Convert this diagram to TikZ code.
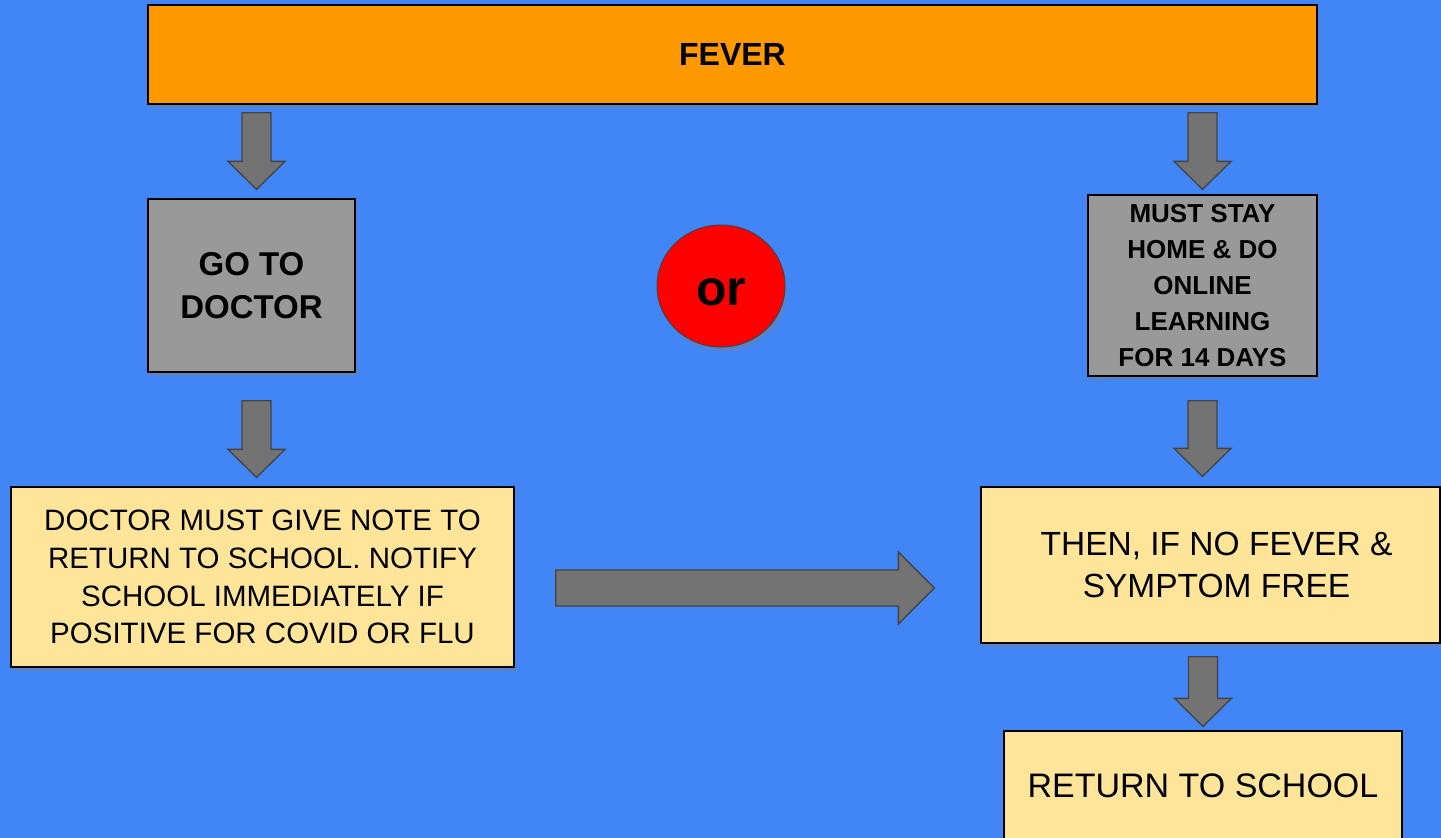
\documentclass[tikz,border=0pt]{standalone}
\usepackage{fontspec}
\setmainfont{Liberation Sans}
\usepackage{tikz}
\usetikzlibrary{calc,shapes.geometric,shadows}
\definecolor{bgblue}{HTML}{4285F4}
\definecolor{feverorange}{HTML}{FF9900}
\definecolor{boxgray}{HTML}{999999}
\definecolor{noteyellow}{HTML}{FFE599}
\definecolor{arrgray}{HTML}{737373}
\definecolor{arredge}{HTML}{434343}
\tikzset{
  shade box/.style={drop shadow={shadow xshift=2pt,shadow yshift=-4pt,opacity=0.4}},
  box/.style={rectangle,draw=black,line width=1.3pt,inner sep=0pt,align=center,shade box},
  graybox/.style={box,fill=boxgray,font=\bfseries},
  notebox/.style={box,fill=noteyellow},
  blockarr/.style={fill=arrgray,draw=arredge,line width=1.3pt,line join=miter}
}
\def\fs#1#2{\fontsize{#1}{#2}\selectfont}
% 下向きの矢印: #1 = 始点, #2 = 先端
\newcommand{\dnarr}[2]{\draw[blockarr] let \p1=(#1), \p2=(#2) in
  (\x2-14.5pt,\y1) -- (\x2+14.5pt,\y1) -- (\x2+14.5pt,\y2+28pt) -- (\x2+28.5pt,\y2+28pt)
  -- (\x2,\y2) -- (\x2-28.5pt,\y2+28pt) -- (\x2-14.5pt,\y2+28pt) -- cycle;}
% 右向きの矢印
\newcommand{\rtarr}[2]{\draw[blockarr] let \p1=(#1), \p2=(#2) in
  (\x1,\y1+18pt) -- (\x2-36pt,\y1+18pt) -- (\x2-36pt,\y1+36pt) -- (\x2,\y1)
  -- (\x2-36pt,\y1-36pt) -- (\x2-36pt,\y1-18pt) -- (\x1,\y1-18pt) -- cycle;}

\begin{document}
\begin{tikzpicture}[x=1pt,y=-1pt]
      \clip (0,0) rectangle (1441,838);
      \fill[bgblue] (0,0) rectangle (1441,838);

      %FEVER
      \node[box, fill=feverorange, minimum width=1169, minimum height=99, font=\bfseries\fs{32}{38}] (fever) at (732.5, 54.5) {FEVER};

      %左の列
      \node[graybox, minimum width=207, minimum height=173, font=\bfseries\fs{33}{43}] (doctor) at (251.5, 285.5) {GO TO\\DOCTOR};
      \node[notebox, minimum width=503, minimum height=180, font=\fs{29.5}{37.7}] (note) at (262.5, 577)
        {DOCTOR MUST GIVE NOTE TO\\RETURN TO SCHOOL. NOTIFY\\SCHOOL IMMEDIATELY IF\\POSITIVE FOR COVID OR FLU};

      %or
      \node[ellipse, fill=red, draw=arredge, line width=1pt, minimum width=128, minimum height=122, inner sep=0pt,
        shade box, font=\bfseries\fs{50}{56}] (or) at (721, 286) {\raisebox{-6pt}[\height][0pt]{or}};

      %右の列
      \node[graybox, minimum width=229, minimum height=181, font=\bfseries\fs{26}{36}] (stay) at (1202.5, 285.5)
        {MUST STAY\\HOME \& DO\\ONLINE\\LEARNING\\FOR 14 DAYS};
      \node[notebox, minimum width=459, minimum height=156, font=\fs{33.5}{42}] (then) at (1210.5, 565)
        {\hspace*{12pt}THEN, IF NO FEVER \&\\\hspace*{12pt}SYMPTOM FREE};
      \node[notebox, minimum width=398, minimum height=109, font=\fs{34}{40}] (ret) at (1203, 785.5) {RETURN TO SCHOOL};

      %矢印
      \dnarr{$(fever.south)+(0,8)$}{$(doctor.north)+(5,-9)$}
      \dnarr{$(doctor.south)+(0,28)$}{$(note.north)+(-6,-9)$}
      \dnarr{$(fever.south)+(0,8)$}{$(stay.north)+(0,-5)$}
      \dnarr{$(stay.south)+(0,24)$}{$(then.north)+(-8,-10)$}
      \dnarr{$(then.south)+(0,13)$}{$(ret.north)+(0,-4)$}
      \rtarr{$(note.east)+(41,11)$}{$(then.west)+(-46,0)$}

\end{tikzpicture}
\end{document}
